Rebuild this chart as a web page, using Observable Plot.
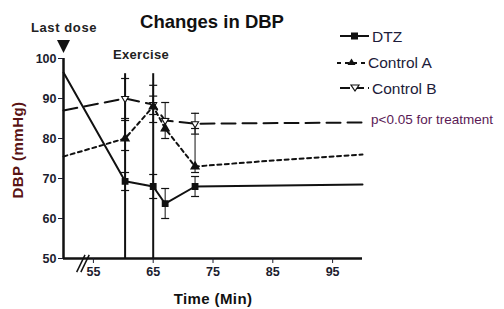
<!DOCTYPE html>
<html><head><meta charset="utf-8">
<script src="https://cdn.jsdelivr.net/npm/d3@7"></script>
<script src="https://cdn.jsdelivr.net/npm/@observablehq/plot@0.6"></script>
<style>
body{margin:0;background:#fff;font-family:"Liberation Sans",Arial,sans-serif;}
#wrap{position:relative;width:504px;height:309px;}
</style></head><body><div id="wrap"></div>
<script>
// ---- data ----
const dtzTime = [50, 60.3, 65, 67, 72, 100];
const dtzValue = [96.5, 69.3, 68, 63.7, 68, 68.5];
const dtzMarked = [false, true, true, true, true, false];
const dtzErrLow = [null, 67, 65, 60, 65.5, null];
const dtzErrHigh = [null, 71.5, 71, 67.5, 70.5, null];

const ctrlATime = [50, 60.3, 65, 67, 72, 85, 100];
const ctrlAValue = [75.5, 80, 88, 82.5, 73, 74.5, 76];
const ctrlAMarked = [false, true, true, true, true, false, false];
const ctrlAErrLow = [null, 77, 84, 80, 71.5, null, null];
const ctrlAErrHigh = [null, 84.5, 93.3, 85, 82.5, null, null];

const ctrlBTime = [50, 60.3, 65, 67, 72, 100];
const ctrlBValue = [87, 90, 88.5, 84.5, 83.7, 84];
const ctrlBMarked = [false, true, true, true, true, false];
const ctrlBErrLow = [null, 85, 86, 82, 81.1, null];
const ctrlBErrHigh = [null, 95, 90.6, 89, 86.3, null];

const exerciseTimes = [60.3, 65];
const exerciseTop = 96.2;
const yTicks = [50, 60, 70, 80, 90, 100];
const xTicks = [55, 65, 75, 85, 95];
const breakX = [[52.2, 53.6], [52.9, 54.3]];
const breakY = [46.6, 50.9];

const seriesNames = ["DTZ", "Control A", "Control B"];

function rows(name, t, v, m, lo, hi) {
  return t.map((x, i) => ({series: name, t: x, v: v[i], marked: m[i], lo: lo[i], hi: hi[i]}));
}
const dtz = rows("DTZ", dtzTime, dtzValue, dtzMarked, dtzErrLow, dtzErrHigh);
const ca = rows("Control A", ctrlATime, ctrlAValue, ctrlAMarked, ctrlAErrLow, ctrlAErrHigh);
const cb = rows("Control B", ctrlBTime, ctrlBValue, ctrlBMarked, ctrlBErrLow, ctrlBErrHigh);
const errs = [...dtz, ...ca, ...cb].filter(d => d.lo != null);
const caps = errs.flatMap(d => [{t: d.t, v: d.lo}, {t: d.t, v: d.hi}]);
const breaks = breakX.map(([a, b]) => ({x1: a, x2: b, y1: breakY[0], y2: breakY[1]}));

const ink = "#111";
const chart = Plot.plot({
  width: 504, height: 309,
  marginLeft: 63, marginRight: 142, marginTop: 58, marginBottom: 51,
  x: {domain: [50, 100]},
  y: {domain: [50, 100]},
  style: {fontFamily: "Liberation Sans, Arial, sans-serif", background: "#fff"},
  marks: [
    Plot.ruleX(exerciseTimes, {x: d => d, y1: 50, y2: exerciseTop, stroke: ink, strokeWidth: 2}),
    Plot.ruleX(errs, {x: "t", y1: "lo", y2: "hi", stroke: ink, strokeWidth: 1}),
    Plot.link(caps, {
      x1: "t", x2: "t", y1: "v", y2: "v", stroke: ink, strokeWidth: 1.2,
      render: (index, scales, values, dims, ctx, next) => {
        const g = next(index, scales, values, dims, ctx);
        d3.select(g).selectAll("path").attr("d", function(_, j) {
          const i = index[j];
          const x = values.x1[i], y = values.y1[i];
          return `M${x - 4},${y}H${x + 4}`;
        });
        return g;
      }
    }),
    Plot.line(cb, {x: "t", y: "v", stroke: ink, strokeWidth: 2, strokeDasharray: "14,7"}),
    Plot.line(ca, {x: "t", y: "v", stroke: ink, strokeWidth: 2, strokeDasharray: "4,3.5"}),
    Plot.line(dtz, {x: "t", y: "v", stroke: ink, strokeWidth: 2}),
    Plot.dot(cb.filter(d => d.marked), {x: "t", y: "v", symbol: "triangle", rotate: 180, r: 2.6, fill: "#fff", stroke: ink, strokeWidth: 1.1}),
    Plot.dot(ca.filter(d => d.marked), {x: "t", y: "v", symbol: "triangle", r: 2.8, fill: ink, stroke: ink}),
    Plot.dot(dtz.filter(d => d.marked), {x: "t", y: "v", symbol: "square", r: 3, fill: ink, stroke: ink}),
    Plot.ruleX([50], {stroke: ink, strokeWidth: 2.5}),
    Plot.ruleY([50], {stroke: ink, strokeWidth: 2.5}),
    Plot.link(breaks, {x1: "x1", x2: "x2", y1: "y1", y2: "y2", stroke: ink, strokeWidth: 1.5, clip: false}),
    Plot.axisY({ticks: yTicks, tickSize: 5, tickPadding: 2, fontSize: 12.5, fontWeight: "bold", color: "#1c1c2e", label: null, tickFormat: d => d}),
    Plot.axisX({ticks: xTicks, tickSize: 5, tickPadding: 4, fontSize: 12.5, fontWeight: "bold", color: "#1c1c2e", label: null, tickFormat: d => d})
  ]
});
document.getElementById("wrap").appendChild(chart);

// annotations & legend
const svg = d3.select(chart);
const ann = svg.append("g").attr("font-family", "Liberation Sans, Arial, sans-serif").attr("text-anchor", "start");
ann.append("text").attr("x", 212).attr("y", 28).attr("text-anchor", "middle")
  .attr("font-size", 18.5).attr("font-weight", "bold").attr("fill", "#111").text("Changes in DBP");
ann.append("text").attr("x", 64).attr("y", 32).attr("text-anchor", "middle")
  .attr("font-size", 13).attr("letter-spacing", 0.6).attr("font-weight", "bold").attr("fill", "#222").text("Last dose");
ann.append("path").attr("d", "M57,40H70L63.5,53Z").attr("fill", "#111");
ann.append("text").attr("x", 141).attr("y", 59).attr("text-anchor", "middle")
  .attr("font-size", 13).attr("letter-spacing", 0.3).attr("font-weight", "bold").attr("fill", "#222").text("Exercise");
ann.append("text").attr("transform", "translate(23,150) rotate(-90)").attr("text-anchor", "middle")
  .attr("font-size", 15).attr("letter-spacing", 0.5).attr("font-weight", "bold").attr("fill", "#5a1414").text("DBP (mmHg)");
ann.append("text").attr("x", 213).attr("y", 304).attr("text-anchor", "middle")
  .attr("font-size", 15).attr("letter-spacing", 0.4).attr("font-weight", "bold").attr("fill", "#111").text("Time (Min)");

const leg = ann.append("g").attr("text-anchor", "start");
// DTZ
leg.append("line").attr("x1", 340).attr("x2", 369).attr("y1", 36).attr("y2", 36).attr("stroke", ink).attr("stroke-width", 2);
leg.append("rect").attr("x", 351).attr("y", 32.5).attr("width", 7).attr("height", 7).attr("fill", ink);
leg.append("text").attr("x", 372).attr("y", 42).attr("font-size", 15.5).attr("fill", "#1c1c3a").text(seriesNames[0]);
// Control A
leg.append("line").attr("x1", 337).attr("x2", 366).attr("y1", 63).attr("y2", 63).attr("stroke", ink).attr("stroke-width", 2).attr("stroke-dasharray", "4,4");
leg.append("path").attr("d", "M351.5,58.5L355.5,65H347.5Z").attr("fill", ink);
leg.append("text").attr("x", 368).attr("y", 68).attr("font-size", 15.5).attr("fill", "#1c1c3a").text(seriesNames[1]);
// Control B
leg.append("line").attr("x1", 340).attr("x2", 369).attr("y1", 88).attr("y2", 88).attr("stroke", ink).attr("stroke-width", 2).attr("stroke-dasharray", "10,4");
leg.append("path").attr("d", "M351,85H359L355,91Z").attr("fill", "#fff").attr("stroke", ink).attr("stroke-width", 1.2);
leg.append("text").attr("x", 372).attr("y", 94).attr("font-size", 15.5).attr("fill", "#1c1c3a").text(seriesNames[2]);
leg.append("text").attr("x", 371).attr("y", 124).attr("font-size", 13.5).attr("fill", "#5a1a55").text("p<0.05 for treatment");
</script></body></html>
